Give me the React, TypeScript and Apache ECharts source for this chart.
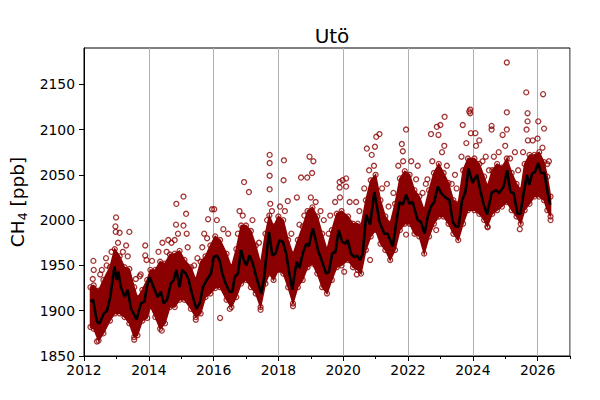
import { useEffect, useRef } from 'react';
import * as echarts from 'echarts';

const TITLE = 'Utö';
const FONT = "'DejaVu Sans', sans-serif";
const DARK_RED = '#8b0000';

// black line: smoothed series [year, ppb]
const meanLine: [number, number][] = [
  [2012.2, 1910], [2012.28, 1912], [2012.4, 1888], [2012.48, 1886], [2012.61, 1897],
  [2012.71, 1900], [2012.81, 1915], [2012.94, 1949], [2013.0, 1934], [2013.06, 1943],
  [2013.14, 1926], [2013.25, 1915], [2013.35, 1923], [2013.45, 1902], [2013.53, 1897],
  [2013.62, 1890], [2013.69, 1899], [2013.76, 1908], [2013.86, 1910], [2013.94, 1926],
  [2014.03, 1937], [2014.15, 1926], [2014.27, 1915], [2014.37, 1921], [2014.46, 1908],
  [2014.56, 1912], [2014.68, 1930], [2014.77, 1934], [2014.85, 1945], [2014.95, 1926],
  [2015.03, 1945], [2015.14, 1941], [2015.23, 1934], [2015.33, 1919], [2015.47, 1902],
  [2015.57, 1908], [2015.67, 1926], [2015.79, 1934], [2015.92, 1941], [2016.0, 1959],
  [2016.1, 1961], [2016.18, 1956], [2016.27, 1941], [2016.37, 1930], [2016.49, 1921],
  [2016.58, 1921], [2016.65, 1937], [2016.75, 1941], [2016.85, 1967], [2016.93, 1956],
  [2017.01, 1950], [2017.11, 1961], [2017.21, 1952], [2017.32, 1937], [2017.47, 1919],
  [2017.55, 1934], [2017.71, 1987], [2017.81, 1961], [2017.91, 1963], [2018.03, 1978],
  [2018.14, 1976], [2018.24, 1963], [2018.32, 1945], [2018.43, 1923], [2018.5, 1941],
  [2018.57, 1954], [2018.65, 1947], [2018.75, 1963], [2018.86, 1974], [2018.94, 1971],
  [2019.06, 1991], [2019.14, 1980], [2019.22, 1967], [2019.37, 1952], [2019.47, 1941],
  [2019.56, 1943], [2019.66, 1963], [2019.76, 1965], [2019.86, 1989], [2019.97, 1976],
  [2020.07, 1974], [2020.14, 1978], [2020.24, 1963], [2020.35, 1959], [2020.42, 1961],
  [2020.52, 1956], [2020.6, 1963], [2020.71, 2006], [2020.83, 1995], [2020.96, 2031],
  [2021.04, 2015], [2021.12, 1998], [2021.27, 1985], [2021.37, 1985], [2021.53, 1971],
  [2021.63, 1996], [2021.74, 2020], [2021.84, 2017], [2021.94, 2028], [2022.04, 2018],
  [2022.14, 2020], [2022.3, 2000], [2022.4, 1998], [2022.51, 1985], [2022.61, 2004],
  [2022.71, 2015], [2022.81, 2020], [2022.92, 2037], [2023.02, 2030], [2023.12, 2026],
  [2023.28, 2022], [2023.38, 1998], [2023.48, 1993], [2023.56, 1993], [2023.67, 2022],
  [2023.77, 2031], [2023.87, 2057], [2023.99, 2041], [2024.13, 2050], [2024.23, 2033],
  [2024.33, 2018], [2024.44, 2006], [2024.51, 2018], [2024.58, 2030], [2024.72, 2033],
  [2024.82, 2030], [2024.95, 2037], [2025.06, 2055], [2025.16, 2031], [2025.26, 2030],
  [2025.38, 2007], [2025.47, 2007], [2025.57, 2030], [2025.67, 2050], [2025.74, 2039],
  [2025.84, 2052], [2025.92, 2053], [2026.02, 2063], [2026.1, 2052], [2026.21, 2052],
  [2026.31, 2030], [2026.39, 2017],
];

// dense part of the hourly cloud: [year, lower edge, upper edge]
const band: [number, number, number][] = [
  [2012.2, 1882, 1926], [2012.3, 1880, 1928], [2012.45, 1867, 1922], [2012.6, 1875, 1934],
  [2012.8, 1889, 1948], [2012.95, 1897, 1968], [2013.1, 1897, 1960], [2013.25, 1893, 1948],
  [2013.4, 1886, 1946], [2013.55, 1871, 1926], [2013.65, 1873, 1914], [2013.8, 1889, 1923],
  [2013.95, 1892, 1934], [2014.05, 1905, 1945], [2014.2, 1893, 1945], [2014.35, 1880, 1954],
  [2014.5, 1886, 1952], [2014.65, 1904, 1962], [2014.8, 1904, 1963], [2014.95, 1912, 1966],
  [2015.1, 1912, 1956], [2015.3, 1902, 1948], [2015.45, 1893, 1934], [2015.6, 1897, 1954],
  [2015.75, 1915, 1960], [2015.9, 1919, 1972], [2016.05, 1925, 1982], [2016.2, 1926, 1978],
  [2016.4, 1912, 1963], [2016.55, 1904, 1948], [2016.7, 1915, 1968], [2016.85, 1930, 1994],
  [2017.0, 1934, 1994], [2017.15, 1926, 1988], [2017.3, 1919, 1972], [2017.45, 1904, 1952],
  [2017.6, 1930, 1985], [2017.72, 1941, 2005], [2017.85, 1934, 1993], [2018.0, 1945, 2004],
  [2018.15, 1941, 2000], [2018.3, 1926, 1978], [2018.45, 1908, 1962], [2018.6, 1926, 1978],
  [2018.75, 1934, 1993], [2018.9, 1948, 2010], [2019.05, 1952, 2014], [2019.2, 1941, 2004],
  [2019.35, 1926, 1985], [2019.5, 1919, 1967], [2019.65, 1934, 1989], [2019.8, 1948, 2007],
  [2019.95, 1950, 2010], [2020.15, 1956, 2004], [2020.3, 1948, 1996], [2020.45, 1945, 1996],
  [2020.55, 1941, 1993], [2020.7, 1967, 2022], [2020.85, 1982, 2044], [2021.0, 1989, 2050],
  [2021.15, 1974, 2022], [2021.3, 1967, 2004], [2021.45, 1956, 1996], [2021.6, 1967, 2018],
  [2021.75, 1989, 2046], [2021.9, 1996, 2054], [2022.05, 1996, 2050], [2022.2, 1985, 2033],
  [2022.35, 1982, 2026], [2022.5, 1963, 2011], [2022.65, 1982, 2033], [2022.8, 1996, 2052],
  [2022.95, 2004, 2062], [2023.1, 2004, 2052], [2023.25, 1996, 2041], [2023.4, 1985, 2022],
  [2023.55, 1978, 2018], [2023.7, 1996, 2055], [2023.85, 2011, 2068], [2024.05, 2011, 2068],
  [2024.2, 2007, 2062], [2024.35, 2000, 2048], [2024.45, 1993, 2037], [2024.6, 2007, 2055],
  [2024.75, 2011, 2062], [2024.9, 2015, 2058], [2025.05, 2020, 2068], [2025.2, 2011, 2052],
  [2025.35, 2004, 2040], [2025.48, 1996, 2033], [2025.6, 2011, 2062], [2025.75, 2018, 2072],
  [2025.9, 2026, 2072], [2026.05, 2026, 2075], [2026.2, 2022, 2064], [2026.3, 2011, 2048],
  [2026.4, 2004, 2026],
];

// scattered observations just outside the dense band
const halo: [number, number][] = [
  [2012.3, 1945], [2012.5, 1940], [2012.7, 1950], [2012.85, 1965], [2013.05, 1975],
  [2013.2, 1965], [2013.35, 1960], [2013.6, 1935], [2013.75, 1940], [2014.1, 1955],
  [2014.3, 1965], [2014.55, 1965], [2014.7, 1975], [2014.9, 1985], [2015.2, 1970],
  [2015.4, 1950], [2015.65, 1970], [2015.8, 1980], [2012.4, 1866], [2013.55, 1868],
  [2014.4, 1878], [2015.45, 1890], [2016.5, 1902], [2017.45, 1901], [2018.45, 1905],
  [2016.1, 2000], [2016.3, 1990], [2016.75, 1985], [2016.9, 2005], [2017.2, 2000],
  [2017.4, 1975], [2017.65, 2000], [2017.8, 2010], [2018.05, 2015], [2018.2, 2010],
  [2018.4, 1985], [2018.65, 1995], [2018.8, 2005], [2019.0, 2025], [2019.15, 2020],
  [2019.4, 2000], [2019.55, 1985], [2019.75, 2020], [2019.9, 2025], [2020.2, 2020],
  [2020.5, 2010], [2020.65, 2035], [2020.8, 2055], [2020.95, 2060], [2021.2, 2035],
  [2021.4, 2015], [2021.55, 2030], [2021.7, 2060], [2021.85, 2065], [2022.1, 2065],
  [2022.25, 2045], [2022.45, 2030], [2022.6, 2045], [2022.75, 2065], [2023.05, 2075],
  [2023.2, 2060], [2023.35, 2040], [2023.5, 2035], [2023.65, 2070], [2023.8, 2085],
  [2024.1, 2082], [2024.3, 2065], [2024.5, 2055], [2024.65, 2070], [2024.8, 2075],
  [2025.0, 2082], [2025.15, 2068], [2025.4, 2055], [2025.55, 2075], [2025.7, 2088],
  [2025.85, 2088], [2026.0, 2090], [2026.15, 2080], [2026.3, 2062],
];

// isolated high / low observations
const outliers: [number, number][] = [
  [2012.29, 1955], [2012.27, 1935], [2012.68, 1958], [2012.99, 2003], [2012.97, 1993],
  [2012.98, 1987], [2013.1, 1986], [2013.4, 1987], [2013.3, 1972], [2013.89, 1972],
  [2013.89, 1961], [2013.93, 1956], [2012.55, 1945], [2013.72, 1938], [2014.85, 2018],
  [2015.07, 2026], [2015.15, 2007], [2014.84, 1995], [2015.07, 1994], [2015.17, 1985],
  [2014.8, 1978], [2014.42, 1975], [2014.6, 1978], [2015.95, 2012], [2015.83, 2001],
  [2015.71, 1985], [2015.5, 1958], [2016.02, 2012], [2016.94, 2042], [2017.09, 2031],
  [2016.8, 2010], [2016.45, 1985], [2017.73, 2072], [2017.73, 2063], [2017.73, 2049],
  [2017.73, 2034], [2017.75, 2018], [2018.17, 2066], [2018.16, 2044], [2018.29, 2021],
  [2018.57, 2025], [2018.7, 2047], [2018.89, 2047], [2018.96, 2070], [2019.08, 2065],
  [2019.04, 2052], [2019.3, 2010], [2019.89, 2042], [2019.89, 2036], [2019.6, 2005],
  [2016.2, 1892], [2020.09, 2046], [2020.09, 2037], [2019.98, 2044], [2020.4, 2020],
  [2020.73, 2079], [2020.88, 2072], [2020.98, 2081], [2021.02, 2092], [2021.12, 2095],
  [2021.35, 2040], [2021.81, 2084], [2021.84, 2076], [2021.94, 2100], [2022.3, 2060],
  [2022.55, 2040], [2022.71, 2095], [2022.89, 2103], [2022.94, 2094], [2023.0, 2105],
  [2023.13, 2114], [2023.12, 2082], [2023.45, 2050], [2023.69, 2105], [2023.89, 2120],
  [2020.03, 1943], [2020.83, 1956], [2020.42, 1940], [2021.94, 1984], [2022.87, 1989],
  [2023.92, 2122], [2023.92, 2118], [2023.94, 2096], [2024.08, 2096], [2024.2, 2088],
  [2024.58, 2104], [2024.58, 2100], [2024.4, 2070], [2024.92, 2094], [2025.05, 2100],
  [2025.05, 2119], [2025.05, 2174], [2025.3, 2075], [2025.65, 2141], [2025.69, 2118],
  [2025.66, 2100], [2025.69, 2109], [2026.02, 2109], [2026.17, 2139], [2026.2, 2101],
  [2026.35, 2065], [2024.46, 1992], [2025.45, 1990], [2026.4, 2000],
];

const X_MIN = 2012;
const X_MAX = 2027;
const Y_MIN = 1850;
const Y_MAX = 2190;

export default function App() {
  const chartRef = useRef<HTMLDivElement>(null);

  useEffect(() => {
    if (!chartRef.current) return;
    document.body.style.margin = '0';
    const chart = echarts.init(chartRef.current, null, { renderer: 'svg' });

    const points = [
      ...band.map(([t, lo]) => [t, lo]),
      ...band.map(([t, , hi]) => [t, hi]),
      ...halo,
      ...outliers,
    ];

    const tickLabel = { color: '#000', fontSize: 13.9, fontFamily: FONT };

    chart.setOption({
      animation: false,
      title: {
        text: TITLE,
        left: 327,
        top: 21,
        textAlign: 'center',
        textStyle: { color: '#000', fontSize: 20, fontWeight: 'normal', fontFamily: FONT },
      },
      grid: {
        left: 84,
        right: 30,
        top: 48,
        bottom: 44,
        show: true,
        borderColor: '#000',
        borderWidth: 1,
        outerBoundsMode: 'none',
      },
      xAxis: [
        {
          type: 'value',
          min: X_MIN,
          max: X_MAX,
          interval: 2,
          axisLine: { show: true, lineStyle: { color: '#000', width: 1 } },
          axisTick: { show: true, length: 5, lineStyle: { color: '#000' } },
          axisLabel: { ...tickLabel, margin: 7, showMaxLabel: false, formatter: (v: number) => String(v) },
          splitLine: { show: true, lineStyle: { color: '#b0b0b0', width: 1 } },
        },
        {
          // minor ticks at odd years
          type: 'value',
          position: 'bottom',
          min: X_MIN,
          max: X_MAX,
          interval: 1,
          axisLine: { show: false },
          axisTick: { show: true, length: 3, lineStyle: { color: '#000' } },
          axisLabel: { show: false },
          splitLine: { show: false },
        },
      ],
      yAxis: {
        type: 'value',
        min: Y_MIN,
        max: Y_MAX,
        interval: 50,
        name: '{a|CH}{b|4}{a| [ppb]}',
        nameLocation: 'middle',
        nameGap: 52,
        nameTextStyle: {
          color: '#000',
          fontFamily: FONT,
          fontSize: 18,
          rich: {
            a: { fontSize: 18.5, fontFamily: FONT, color: '#000', lineHeight: 24 },
            b: {
              fontSize: 12.5,
              fontFamily: FONT,
              color: '#000',
              lineHeight: 13,
              verticalAlign: 'top',
              padding: [10, 0, 0, 0],
            },
          },
        },
        axisLine: { show: true, lineStyle: { color: '#000', width: 1 } },
        axisTick: { show: true, length: 5, lineStyle: { color: '#000' } },
        axisLabel: { ...tickLabel, margin: 9, showMaxLabel: false, formatter: (v: number) => String(v) },
        splitLine: { show: false },
      },
      series: [
        {
          // filled dense cloud, outline built from the band edges via the axes
          type: 'custom',
          data: [[band[0][0], band[0][1]]],
          renderItem: (_params: unknown, api: any) => {
            const lower = band.map(([t, lo]) => api.coord([t, lo]));
            const upper = band.map(([t, , hi]) => api.coord([t, hi])).reverse();
            return {
              type: 'polygon',
              shape: { points: [...lower, ...upper] },
              style: { fill: DARK_RED, stroke: DARK_RED, lineWidth: 1.5 },
            };
          },
          z: 1,
        },
        {
          type: 'scatter',
          data: points,
          symbol: 'circle',
          symbolSize: 5,
          itemStyle: { color: 'rgba(0,0,0,0)', borderColor: DARK_RED, borderWidth: 1.3 },
          z: 2,
        },
        {
          type: 'line',
          data: meanLine,
          showSymbol: false,
          lineStyle: { color: '#000', width: 2.6 },
          z: 3,
        },
      ],
    });

    return () => {
      chart.dispose();
    };
  }, []);

  return <div ref={chartRef} style={{ width: '600px', height: '400px' }} />;
}
